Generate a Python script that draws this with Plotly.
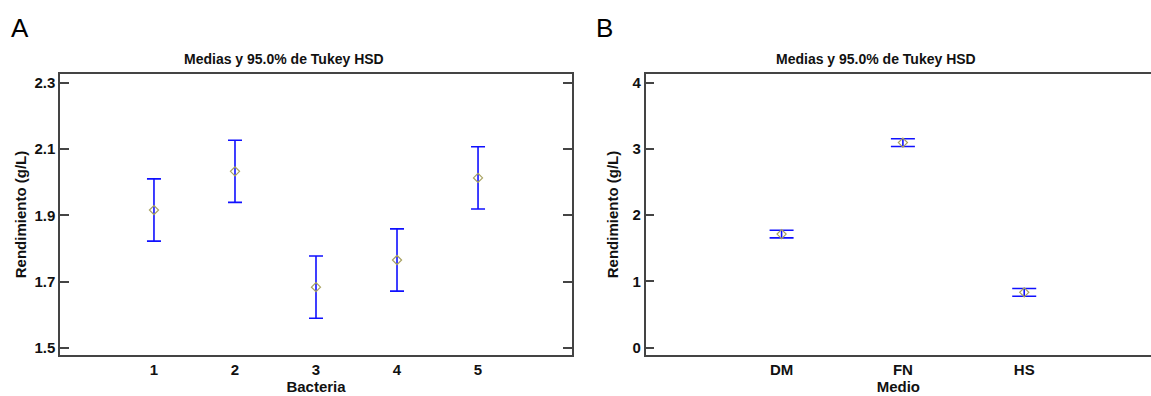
import plotly.graph_objects as go

# Panel A data
bacteria = [1, 2, 3, 4, 5]
bacteria_labels = ["1", "2", "3", "4", "5"]
means_a = [1.916, 2.033, 1.683, 1.765, 2.013]
hsd_a = [0.094, 0.094, 0.094, 0.094, 0.094]
yticks_a = [1.5, 1.7, 1.9, 2.1, 2.3]

# Panel B data
medio_pos = [1, 2, 3]
medio_labels = ["DM", "FN", "HS"]
means_b = [1.715, 3.095, 0.835]
hsd_b = [0.058, 0.058, 0.058]
yticks_b = [0, 1, 2, 3, 4]

W, H = 1151, 396
FONT = "Liberation Sans, Arial, sans-serif"
BLUE = "#1010ff"
MK = "#a8a260"
LINE = "#444444"

def px_x(p):
    return p / W

def px_y(p):
    return 1 - p / H

fig = go.Figure()
fig.add_trace(go.Scatter(
    x=bacteria, y=means_a, mode="markers",
    marker=dict(symbol="diamond-open", size=7, color=MK, line=dict(width=1.2)),
    error_y=dict(type="data", array=hsd_a, color=BLUE, thickness=1.6, width=7),
    xaxis="x", yaxis="y", showlegend=False))
fig.add_trace(go.Scatter(
    x=medio_pos, y=means_b, mode="markers",
    marker=dict(symbol="diamond-open", size=7, color=MK, line=dict(width=1.2)),
    error_y=dict(type="data", array=hsd_b, color=BLUE, thickness=1.6, width=12),
    xaxis="x2", yaxis="y2", showlegend=False))

ydom = [px_y(355), px_y(74)]
axfont = dict(family=FONT, size=15, color="#111111", weight="bold")
common = dict(showline=True, linecolor=LINE, linewidth=1.5, ticks="inside",
              ticklen=9, tickcolor=LINE, tickwidth=1.5, showgrid=False,
              zeroline=False, tickfont=axfont)

fig.update_layout(
    width=W, height=H, margin=dict(l=0, r=0, t=0, b=0),
    paper_bgcolor="white", plot_bgcolor="white",
    xaxis=dict(domain=[px_x(60), px_x(572)], range=[-0.16, 6.16],
               tickvals=bacteria, ticktext=bacteria_labels, mirror=True,
               anchor="y", ticks="",
               title=dict(text="Bacteria", font=axfont, standoff=4), **{k: v for k, v in common.items() if k != "ticks"}),
    yaxis=dict(domain=ydom, range=[1.478, 2.327], tickvals=yticks_a,
               ticktext=[f"{v:.1f}" for v in yticks_a], mirror="allticks",
               anchor="x",
               title=dict(text="Rendimiento (g/L)", font=axfont, standoff=4), **common),
    xaxis2=dict(domain=[px_x(645.7), 1.0], range=[-0.12, 4.045],
                tickvals=medio_pos, ticktext=medio_labels, mirror=True,
                anchor="y2", ticks="",
                title=dict(text="Medio", font=axfont, standoff=4), **{k: v for k, v in common.items() if k != "ticks"}),
    yaxis2=dict(domain=ydom, range=[-0.11, 4.13], tickvals=yticks_b,
                ticktext=[str(v) for v in yticks_b], mirror=False,
                anchor="x2",
                title=dict(text="Rendimiento (g/L)", font=axfont, standoff=10), **common),
)

anns = [
    dict(text="A", x=px_x(9), y=px_y(28), xanchor="left", yanchor="middle",
         font=dict(family=FONT, size=26, color="black")),
    dict(text="B", x=px_x(594), y=px_y(28), xanchor="left", yanchor="middle",
         font=dict(family=FONT, size=26, color="black")),
    dict(text="<b>Medias y 95.0% de Tukey HSD</b>", x=px_x(284), y=px_y(59),
         xanchor="center", yanchor="middle",
         font=dict(family=FONT, size=14, color="#111111")),
    dict(text="<b>Medias y 95.0% de Tukey HSD</b>", x=px_x(876), y=px_y(59),
         xanchor="center", yanchor="middle",
         font=dict(family=FONT, size=14, color="#111111")),
]
for a in anns:
    a.update(xref="paper", yref="paper", showarrow=False)
fig.update_layout(annotations=anns)

fig.write_html("out.html")
